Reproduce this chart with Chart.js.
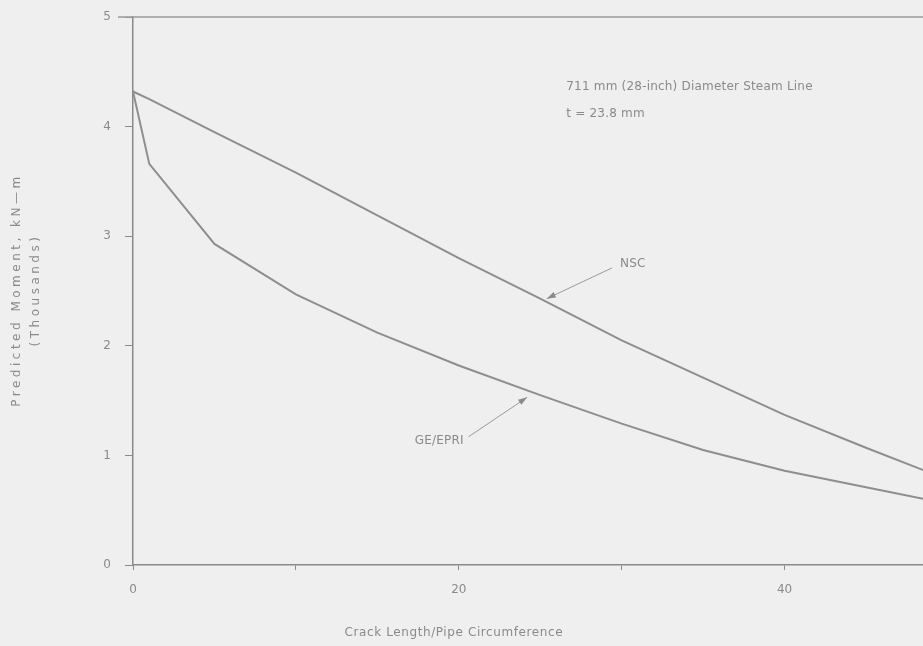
<!DOCTYPE html>
<html>
<head>
<meta charset="utf-8">
<script src="https://cdn.jsdelivr.net/npm/chart.js@4"></script>
<style>
html,body{margin:0;padding:0;background:#efefef;}
#wrap{width:923px;height:646px;}
</style>
</head>
<body>
<div id="wrap"><canvas id="c" width="923" height="646"></canvas></div>
<script>
// Data (crack length / pipe circumference, predicted moment in thousands of kN-m)
const xValues   = [0, 1, 5, 10, 15, 20, 25, 30, 35, 40, 45, 50];
const nscMoment = [4.32, 4.25, 3.95, 3.58, 3.19, 2.80, 2.43, 2.05, 1.71, 1.37, 1.07, 0.78];
const geMoment  = [4.32, 3.66, 2.93, 2.47, 2.12, 1.82, 1.55, 1.29, 1.05, 0.86, 0.71, 0.56];
const xTicks = [0, 10, 20, 30, 40];
const xTickLabels = {0: '0', 20: '20', 40: '40'};
const yTicks = [0, 1, 2, 3, 4, 5];
const noteLine1 = '711 mm (28-inch) Diameter Steam Line';
const noteLine2 = 't = 23.8 mm';
const xTitle = 'Crack Length/Pipe Circumference';
const yTitle1 = 'Predicted Moment, kN\u2014m';
const yTitle2 = '(Thousands)';

const GRAY = '#8e8e8e';
const TEXT = '#8a8a8a';
const FONT = '"DejaVu Sans", Arial, sans-serif';

const toPts = (ys) => xValues.map((x, i) => ({x, y: ys[i]}));

function arrow(ctx, x1, y1, x2, y2) {
  ctx.beginPath(); ctx.moveTo(x1, y1); ctx.lineTo(x2, y2); ctx.stroke();
  const a = Math.atan2(y2 - y1, x2 - x1), L = 9, W = 3;
  ctx.beginPath();
  ctx.moveTo(x2, y2);
  ctx.lineTo(x2 - L*Math.cos(a) + W*Math.sin(a), y2 - L*Math.sin(a) - W*Math.cos(a));
  ctx.lineTo(x2 - L*Math.cos(a) - W*Math.sin(a), y2 - L*Math.sin(a) + W*Math.cos(a));
  ctx.closePath(); ctx.fill();
}

const decor = {
  id: 'decor',
  beforeDraw(chart) {
    const ctx = chart.ctx;
    ctx.save();
    ctx.fillStyle = '#efefef';
    ctx.fillRect(0, 0, chart.width, chart.height);
    ctx.restore();
  },
  afterDraw(chart) {
    const ctx = chart.ctx, xs = chart.scales.x, ys = chart.scales.y, ca = chart.chartArea;
    ctx.save();
    // top frame line
    ctx.strokeStyle = '#9a9a9a'; ctx.lineWidth = 1.5;
    ctx.beginPath(); ctx.moveTo(ca.left - 15, ca.top); ctx.lineTo(ca.right, ca.top); ctx.stroke();
    ctx.fillStyle = TEXT;
    ctx.font = '12px ' + FONT;
    ctx.textBaseline = 'middle';
    ctx.textAlign = 'left';
    ctx.letterSpacing = '0.2px';
    ctx.fillText(noteLine1, xs.getPixelForValue(26.6), ys.getPixelForValue(4.36));
    ctx.fillText(noteLine2, xs.getPixelForValue(26.6), ys.getPixelForValue(4.12));
    ctx.fillText('NSC', xs.getPixelForValue(29.9), ys.getPixelForValue(2.75));
    ctx.textAlign = 'right';
    ctx.fillText('GE/EPRI', xs.getPixelForValue(20.3), ys.getPixelForValue(1.13));
    // arrows
    ctx.strokeStyle = '#9a9a9a'; ctx.fillStyle = '#8a8a8a'; ctx.lineWidth = 1;
    arrow(ctx, xs.getPixelForValue(29.4), ys.getPixelForValue(2.71), xs.getPixelForValue(25.4), ys.getPixelForValue(2.43));
    arrow(ctx, xs.getPixelForValue(20.6), ys.getPixelForValue(1.17), xs.getPixelForValue(24.2), ys.getPixelForValue(1.53));
    // axis titles
    ctx.fillStyle = TEXT;
    ctx.font = '12px ' + FONT;
    ctx.textAlign = 'center';
    ctx.letterSpacing = '0.6px';
    ctx.fillText(xTitle, xs.getPixelForValue(19.7), 633);
    ctx.letterSpacing = '3.5px';
    ctx.save();
    ctx.translate(17, 290); ctx.rotate(-Math.PI/2);
    ctx.fillText(yTitle1, 0, 0);
    ctx.restore();
    ctx.save();
    ctx.translate(36, 290); ctx.rotate(-Math.PI/2);
    ctx.fillText(yTitle2, 0, 0);
    ctx.restore();
    ctx.restore();
  }
};

new Chart(document.getElementById('c'), {
  type: 'line',
  data: {
    datasets: [
      {label: 'NSC', data: toPts(nscMoment), borderColor: GRAY, borderWidth: 2, pointRadius: 0, tension: 0, fill: false},
      {label: 'GE/EPRI', data: toPts(geMoment), borderColor: GRAY, borderWidth: 2, pointRadius: 0, tension: 0, fill: false}
    ]
  },
  options: {
    responsive: false,
    animation: false,
    events: [],
    layout: {padding: {left: 0, right: 0, top: 17, bottom: 0}},
    plugins: {legend: {display: false}, tooltip: {enabled: false}, title: {display: false}},
    scales: {
      x: {
        type: 'linear', min: 0, max: 48.5,
        afterBuildTicks: (s) => { s.ticks = xTicks.map(v => ({value: v})); },
        afterFit: (s) => { s.height = 81; s.paddingLeft = 0; s.paddingRight = 0; },
        border: {display: true, color: '#8a8a8a', width: 1.5},
        grid: {display: true, drawOnChartArea: false, drawTicks: true, tickLength: 5, color: '#8a8a8a'},
        ticks: {color: TEXT, font: {family: FONT, size: 12}, padding: 13, maxRotation: 0,
                callback: (v) => xTickLabels[v] !== undefined ? xTickLabels[v] : ''}
      },
      y: {
        type: 'linear', min: 0, max: 5,
        afterBuildTicks: (s) => { s.ticks = yTicks.map(v => ({value: v})); },
        afterFit: (s) => { s.width = 133; s.paddingTop = 0; s.paddingBottom = 0; },
        border: {display: true, color: '#8a8a8a', width: 1.5},
        grid: {display: true, drawOnChartArea: false, drawTicks: true, tickLength: 8, color: '#8a8a8a'},
        ticks: {color: TEXT, font: {family: FONT, size: 12}, padding: 14}
      }
    }
  },
  plugins: [decor]
});
</script>
</body>
</html>
